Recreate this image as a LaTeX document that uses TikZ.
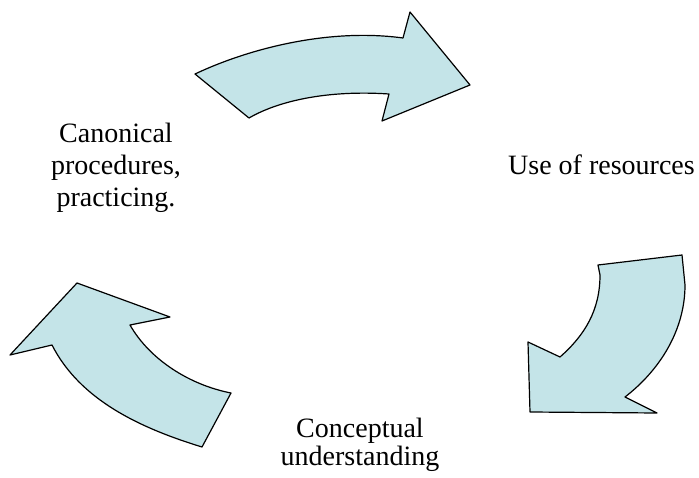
\documentclass[tikz,border=0pt]{standalone}
\usepackage{fontspec}
\setmainfont{Liberation Serif}
\definecolor{arrowfill}{RGB}{196,228,232}
\tikzset{bigarrow/.style={draw=black,line width=1.2pt,fill=arrowfill,line join=round},
  label/.style={font=\fontsize{28}{32}\selectfont,inner sep=0pt,align=center}}
\begin{document}
\begin{tikzpicture}[x=1pt,y=-1pt]
\useasboundingbox (0,0) rectangle (699,478);

\draw[bigarrow] (195,74) .. controls (250,48) and (330,28) .. (403,38) -- (410,12) -- (470,85) -- (382,121) -- (389,94)
  .. controls (330,90) and (280,100) .. (249,118) -- cycle;
\draw[bigarrow] (682,255) -- (685,285) .. controls (685,330) and (660,370) .. (625,397) -- (657,413) -- (530,412) -- (528,342)
  -- (560,357) .. controls (585,335) and (600,310) .. (600,275) -- (598,265) -- cycle;
\draw[bigarrow] (77,283) -- (170,317) -- (130,325) .. controls (150,360) and (190,385) .. (231,393) -- (202,447)
  .. controls (140,428) and (80,400) .. (52,345) -- (10,355) -- cycle;

\node[label] (canonical) at (116,167.5) {Canonical\\procedures,\\practicing.};
\node[label,anchor=base west] (resources) at (508,175) {Use of resources};
\node[label,font=\fontsize{28}{28}\selectfont] (conceptual) at (360,444.5) {Conceptual\\understanding};
\end{tikzpicture}
\end{document}
